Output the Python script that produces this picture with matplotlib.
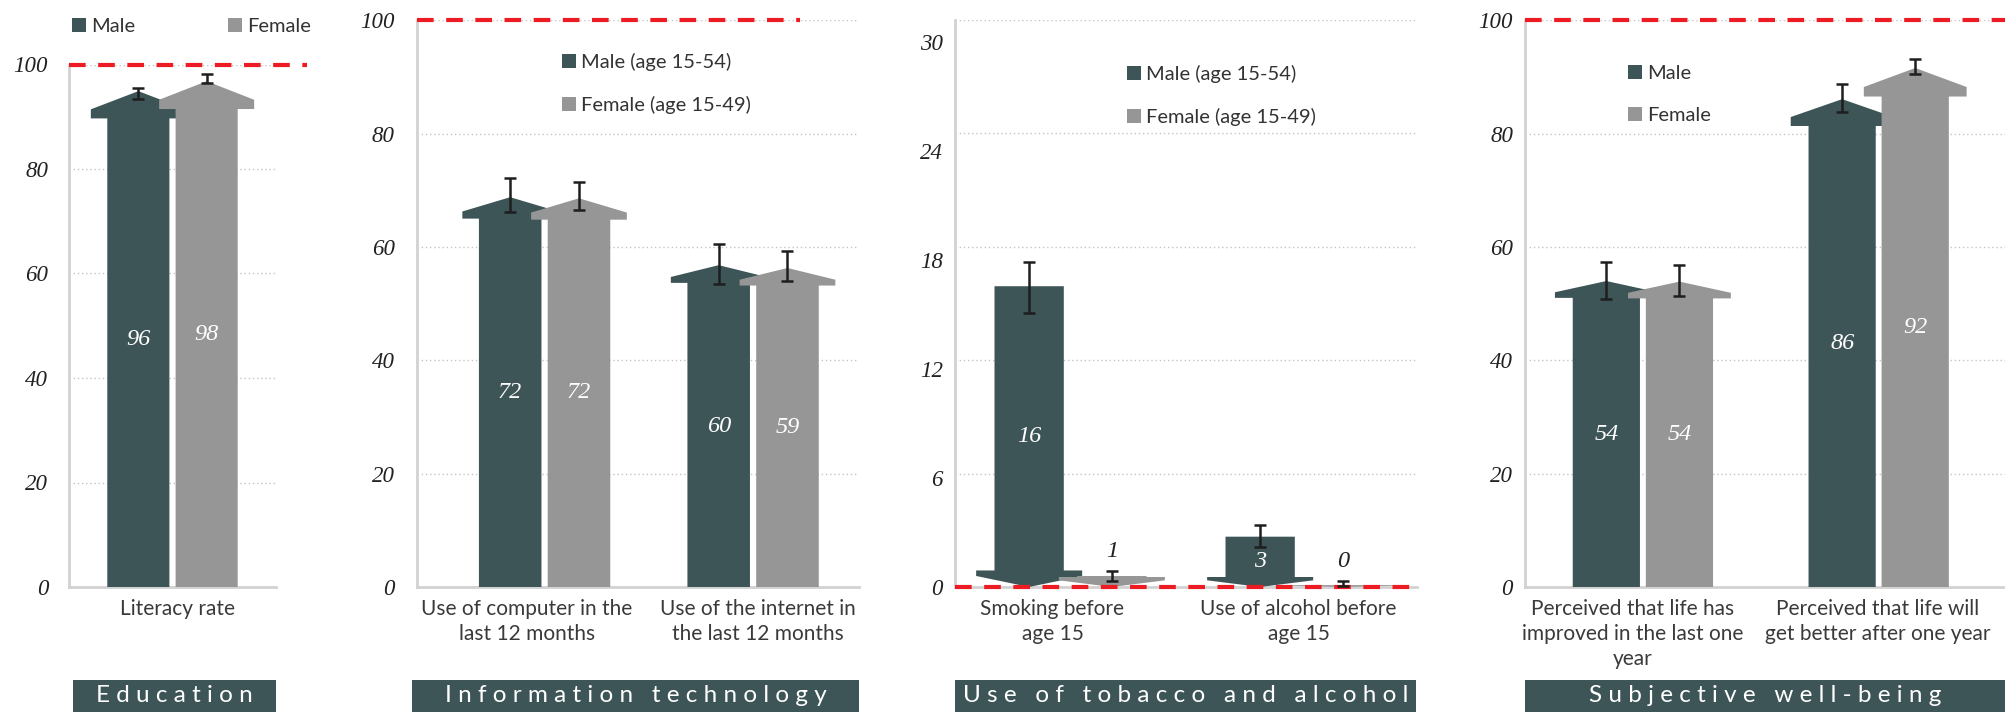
import matplotlib
matplotlib.use("Agg")
import matplotlib.pyplot as plt
from matplotlib.patches import Polygon, Patch, Rectangle

W, H = 2006, 712
DARK = "#3e5558"
GREY = "#969696"
RED = "#ed1c24"
SANS = "Lato"
SERIF = "Liberation Serif"

# ---------------------------------------------------------------- data ----
edu_cats = ["Literacy rate"]
edu_male = [94.9]
edu_female = [96.8]
edu_male_lab = ["96"]
edu_female_lab = ["98"]
edu_male_err = [(93.4, 95.5)]
edu_female_err = [(96.5, 98.2)]

it_cats = ["Use of computer in the\nlast 12 months",
           "Use of the internet in\nthe last 12 months"]
it_male = [68.8, 56.8]
it_female = [68.6, 56.3]
it_male_lab = ["72", "60"]
it_female_lab = ["72", "59"]
it_male_err = [(66.1, 72.1), (53.5, 60.5)]
it_female_err = [(66.5, 71.4), (54.0, 59.3)]

tob_cats = ["Smoking before\nage 15", "Use of alcohol before\nage 15"]
tob_male = [15.9, 2.66]
tob_female = [0.58, 0.1]
tob_male_lab = ["16", "3"]
tob_female_lab = ["1", "0"]
tob_male_err = [(14.5, 17.2), (2.13, 3.28)]
tob_female_err = [(0.32, 0.85), (0.05, 0.3)]

wb_cats = ["Perceived that life has\nimproved in the last one\nyear",
           "Perceived that life will\nget better after one year"]
wb_male = [54.0, 86.1]
wb_female = [53.9, 91.6]
wb_male_lab = ["54", "86"]
wb_female_lab = ["54", "92"]
wb_male_err = [(50.8, 57.4), (83.8, 88.8)]
wb_female_err = [(51.3, 56.8), (90.6, 93.1)]

ticks_pct = [0, 20, 40, 60, 80, 100]
ticks_tob = [0, 6, 12, 18, 24, 30]


# ------------------------------------------------------------- helpers ----
def add_axes_px(fig, left, right, top, bottom):
    return fig.add_axes([left / W, 1 - bottom / H, (right - left) / W, (bottom - top) / H])


def draw_arrow(ax, xc, w, v, up, color, upp):
    """Block arrow: rectangle body + pentagon head (up) or head at 0 (down)."""
    lpx = v / upp
    head = max(0.055 * lpx, min(lpx, 10)) * upp
    sh = head / 3
    over = 0.265 * w
    xl, xr = xc - w / 2, xc + w / 2
    if up:
        hb = v - head
        pts = [(xl, 0), (xl, hb), (xl - over, hb), (xl - over, hb + sh), (xc, v),
               (xr + over, hb + sh), (xr + over, hb), (xr, hb), (xr, 0)]
    else:
        pts = [(xl, v), (xl, head), (xl - over, head), (xl - over, head - sh), (xc, 0),
               (xr + over, head - sh), (xr + over, head), (xr, head), (xr, v)]
    ax.add_patch(Polygon(pts, closed=True, fc=color, ec="none", zorder=3))


def style_yticks(ax, pad):
    ax.tick_params(axis="y", length=0, pad=pad, labelsize=16.5, labelcolor="#222222")
    for t in ax.get_yticklabels():
        t.set_fontfamily(SERIF)
        t.set_fontstyle("italic")


def panel(ax, cats, male, female, m_lab, f_lab, m_err, f_err, ylim, xlim, ticks,
          up=True, offset=0.165, width=0.3, tick_pad=15, cat_dx=None):
    ax.set_xlim(*xlim)
    ax.set_ylim(*ylim)
    ax.set_yticks(ticks)
    ax.yaxis.grid(True, ls=(0, (1, 2)), color="#c4c4c4", lw=1)
    ax.set_axisbelow(True)
    for s in ("top", "right"):
        ax.spines[s].set_visible(False)
    for s in ("left", "bottom"):
        ax.spines[s].set_color("#d2d2d2")
        ax.spines[s].set_linewidth(2)
    style_yticks(ax, tick_pad)
    ax.set_xticks([])
    # category labels, nudged sideways a little as in the source layout
    cat_dx = cat_dx or [0] * len(cats)
    for i, cat in enumerate(cats):
        ax.annotate(cat, xy=(i, 0), xycoords=("data", "axes fraction"),
                    xytext=(cat_dx[i], -12), textcoords="offset pixels",
                    ha="center", va="top", fontsize=15, family=SANS,
                    color="#3a3a3a", linespacing=1.3)

    upp = (ylim[1] - ylim[0]) / (ax.get_position().height * H)
    for i in range(len(cats)):
        for v, lab, err, col, dx in ((male[i], m_lab[i], m_err[i], DARK, -offset),
                                     (female[i], f_lab[i], f_err[i], GREY, offset)):
            x = i + dx
            draw_arrow(ax, x, width, v, up, col, upp)
            ax.errorbar(x, v, yerr=[[v - err[0]], [err[1] - v]], fmt="none",
                        ecolor="#1e1e1e", elinewidth=1.8, capsize=4.3, capthick=1.8, zorder=5)
            if v / upp < 30:
                ax.annotate(lab, (x, err[1]), xytext=(0, 14), textcoords="offset points",
                            ha="center", va="center", fontsize=17.5, family=SERIF,
                            style="italic", color="#222222", zorder=6)
            else:
                ax.text(x, v / 2, lab, ha="center", va="center", fontsize=17.5,
                        family=SERIF, style="italic", color="white", zorder=6)


def band(fig, left, right, title):
    fig.patches.append(Rectangle((left / W, 0), (right - left) / W, 32 / H,
                                 transform=fig.transFigure, fc=DARK, ec="none"))
    spaced = "   ".join(" ".join(word) for word in title.split(" "))
    fig.text((left + right) / 2 / W, 1 - 695 / H, spaced, ha="center", va="center",
             fontsize=17.5, family=SANS, color="white")


def legend(fig, x, y, labels, ncol=1, colsp=2.0):
    handles = [Patch(fc=DARK, ec="none"), Patch(fc=GREY, ec="none")]
    fig.legend(handles, labels, loc="upper left", bbox_to_anchor=(x / W, 1 - y / H),
               bbox_transform=fig.transFigure, frameon=False, ncol=ncol,
               prop={"family": SANS, "size": 14.5}, handlelength=0.7,
               handleheight=0.7, handletextpad=0.25, labelspacing=1.25,
               columnspacing=colsp, borderpad=0, borderaxespad=0, labelcolor="#333333")


# ---------------------------------------------------------------- figure ----
fig = plt.figure(figsize=(W / 100, H / 100), dpi=100)

ax1 = add_axes_px(fig, 69, 276, 64.5, 587)
panel(ax1, edu_cats, edu_male, edu_female, edu_male_lab, edu_female_lab,
      edu_male_err, edu_female_err, (0, 100), (-0.5, 0.5), ticks_pct, tick_pad=15,
      cat_dx=[5])
ax1.axhline(100, 0, 1.15, color=RED, lw=3, ls=(0, (4, 3)), clip_on=False, zorder=4)

ax2 = add_axes_px(fig, 417, 859, 20.4, 587)
panel(ax2, it_cats, it_male, it_female, it_male_lab, it_female_lab,
      it_male_err, it_female_err, (0, 100), (-0.612, 1.508), ticks_pct, tick_pad=16,
      cat_dx=[-18, 5])
ax2.axhline(100, 0, 0.867, color=RED, lw=3, ls=(0, (4, 3)), clip_on=False, zorder=4)

ax3 = add_axes_px(fig, 955, 1417, 19.5, 587)
panel(ax3, tob_cats, tob_male, tob_female, tob_male_lab, tob_female_lab,
      tob_male_err, tob_female_err, (0, 30), (-0.5, 1.5), ticks_tob, up=False,
      offset=0.179, tick_pad=8.6, cat_dx=[-18, -3])
ax3.axhline(0, 0, 1, color=RED, lw=3, ls=(0, (4, 3)), clip_on=False, zorder=4)
# tick labels of this panel sit on a slightly compressed scale
ax3.tick_params(axis="y", labelleft=False)
ax3b = ax3.twinx()
ax3b.yaxis.tick_left()
ax3b.set_ylim(0, 30 * 567.5 / 545)
ax3b.set_yticks(ticks_tob)
style_yticks(ax3b, 8.6)
for s in ax3b.spines.values():
    s.set_visible(False)

ax4 = add_axes_px(fig, 1525, 2006, 20.4, 587)
panel(ax4, wb_cats, wb_male, wb_female, wb_male_lab, wb_female_lab,
      wb_male_err, wb_female_err, (0, 100), (-0.5, 1.54), ticks_pct,
      offset=0.155, width=0.285, tick_pad=8.6, cat_dx=[-10, -1])
ax4.axhline(100, 0, 1, color=RED, lw=3, ls=(0, (4, 3)), clip_on=False, zorder=4)

legend(fig, 72, 18, ["Male", "Female"], ncol=2, colsp=4.6)
legend(fig, 562, 53, ["Male (age 15-54)", "Female (age 15-49)"])
legend(fig, 1127, 65, ["Male (age 15-54)", "Female (age 15-49)"])
legend(fig, 1628, 65, ["Male", "Female"])

band(fig, 73, 276, "Education")
band(fig, 412, 859, "Information technology")
band(fig, 955, 1416, "Use of tobacco and alcohol")
band(fig, 1525, 2006, "Subjective well-being")

fig.savefig("out.png", dpi=100)
